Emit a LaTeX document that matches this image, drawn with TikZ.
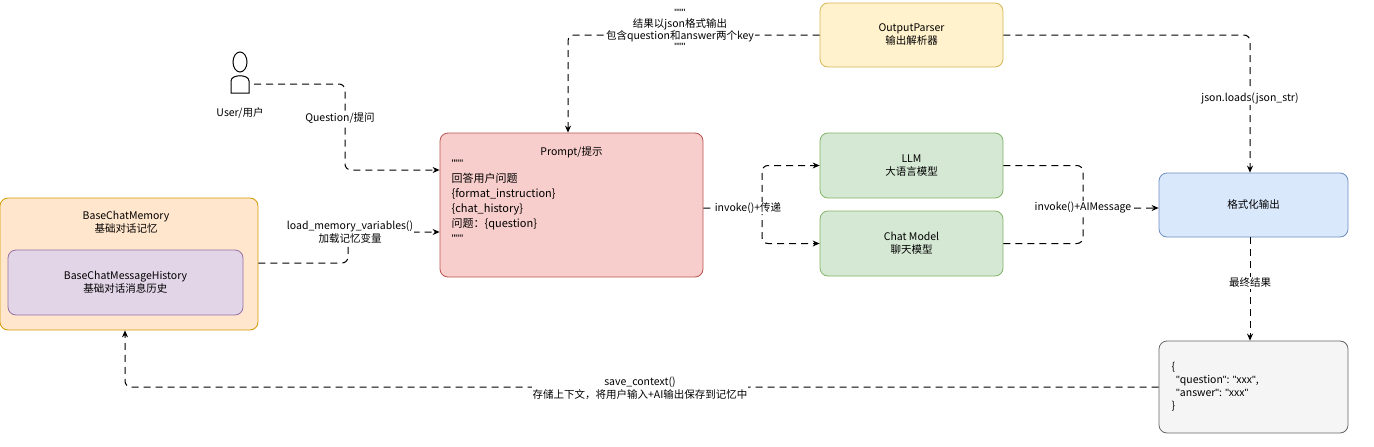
\documentclass[tikz,border=0pt]{standalone}
\usepackage{fontspec}
\setmainfont{Noto Sans CJK SC}
\newfontfamily\lat{Liberation Sans}
\newcommand{\dq}{{\lat"}}
\usetikzlibrary{arrows.meta}
\definecolor{pinkf}{HTML}{F8CECC}\definecolor{pinkd}{HTML}{B85450}
\definecolor{yelf}{HTML}{FFF2CC}\definecolor{yeld}{HTML}{D6B656}
\definecolor{grnf}{HTML}{D5E8D4}\definecolor{grnd}{HTML}{82B366}
\definecolor{bluf}{HTML}{DAE8FC}\definecolor{blud}{HTML}{6C8EBF}
\definecolor{grf}{HTML}{F5F5F5}\definecolor{grd}{HTML}{666666}
\definecolor{orf}{HTML}{FFE6CC}\definecolor{ord}{HTML}{D79B00}
\definecolor{puf}{HTML}{E1D5E7}\definecolor{pud}{HTML}{9673A6}
\begin{document}
\begin{tikzpicture}[x=1pt,y=-1pt,font=\fontsize{10.5}{13}\selectfont,
 box/.style={draw,rounded corners=8pt,line width=0.8pt,align=center,inner sep=0pt},
 conn/.style={dashed,dash pattern=on 7pt off 5pt,line width=1pt,rounded corners=6pt,-{Stealth[length=7pt,width=6pt]}},
 lbl/.style={fill=white,inner sep=1pt,align=center}]
\useasboundingbox (0,0) rectangle (1374,447);
\node[box,fill=pinkf,draw=pinkd,minimum width=263pt,minimum height=144pt] (prompt) at (571.5,205) {};
\node[anchor=north] (ptitle) at (571.5,143) {Prompt/提示};
\node[anchor=north west,align=left,font=\fontsize{11}{15}\selectfont] (ptext) at (448,156) {\dq\dq\dq\\回答用户问题\\\{format\_instruction\}\\\{chat\_history\}\\问题：\{question\}\\\dq\dq\dq};
\node[box,fill=yelf,draw=yeld,minimum width=183pt,minimum height=64pt] (op) at (911.5,35) {OutputParser\\输出解析器};
\node[box,fill=grnf,draw=grnd,minimum width=183pt,minimum height=65pt] (llm) at (911.5,165.5) {LLM\\大语言模型};
\node[box,fill=grnf,draw=grnd,minimum width=183pt,minimum height=65pt] (chat) at (911.5,243.5) {Chat Model\\聊天模型};
\node[box,fill=bluf,draw=blud,minimum width=189pt,minimum height=64pt] (fmt) at (1253.5,205) {格式化输出};
\node[box,fill=grf,draw=grd,minimum width=189pt,minimum height=92pt] (res) at (1253.5,387) {};
\node[anchor=west,align=left] (restext) at (1168,387) {\{\\\ \ \dq question\dq: \dq xxx\dq,\\\ \ \dq answer\dq: \dq xxx\dq\\\}};
\node[box,fill=orf,draw=ord,minimum width=258pt,minimum height=132pt] (mem) at (129,264) {};
\node[align=center] (memtitle) at (126,222) {BaseChatMemory\\基础对话记忆};
\node[box,fill=puf,draw=pud,minimum width=235pt,minimum height=65pt] (hist) at (125.5,282.5) {BaseChatMessageHistory\\基础对话消息历史};
% user icon
\draw[line width=1pt,fill=white] (240,62) ellipse (7pt and 10pt);
\draw[line width=1pt,fill=white] (231,93) -- (231,81) .. controls (231,74) and (249,74) .. (249,81) -- (249,93) -- cycle;
\coordinate (user) at (254,84);
\node (ulabel) at (240,113) {User/用户};
% connectors
\draw[conn] (user) -- (345,84) -- (345,170) -- (prompt.west |- 0,170);
\node[lbl] (ql) at (340,118) {Question/提问};
\draw[conn] (mem.east |- 0,263) -- (348,263) -- (348,232) -- (prompt.west |- 0,232);
\node[lbl] (ll) at (350,232) {load\_memory\_variables()\\加载记忆变量};
\draw[conn] (op.west) -- (568,35) -- (prompt.north -| 568,0);
\node[lbl,font=\fontsize{10.5}{11.5}\selectfont] (jl) at (680,30) {\dq\dq\dq\\结果以json格式输出\\包含question和answer两个key\\\dq\dq\dq};
\draw[conn] (prompt.east |- 0,208) -- (762,208) -- (762,165.5) -- (llm.west);
\draw[conn] (762,208) -- (762,243.5) -- (chat.west);
\node[lbl] (il) at (748,208) {invoke()+传递};
\draw[conn] (llm.east) -- (1083,165.5) -- (1083,208) -- (fmt.west |- 0,208);
\draw[dashed,dash pattern=on 7pt off 5pt,line width=1pt,rounded corners=6pt] (chat.east) -- (1083,243.5) -- (1083,208);
\node[lbl] (al) at (1083,208) {invoke()+AIMessage};
\draw[conn] (op.east) -- (1250,35) -- (fmt.north -| 1250,0);
\node[lbl] (jsl) at (1250,98) {json.loads(json\_str)};
\draw[conn] (fmt.south -| 1250,0) -- (res.north -| 1250,0);
\node[lbl] (fl) at (1250,283) {最终结果};
\draw[conn] (res.west) -- (125,387) -- (mem.south -| 125,0);
\node[lbl] (sl) at (640,388) {save\_context()\\存储上下文，将用户输入+AI输出保存到记忆中};
\end{tikzpicture}
\end{document}
